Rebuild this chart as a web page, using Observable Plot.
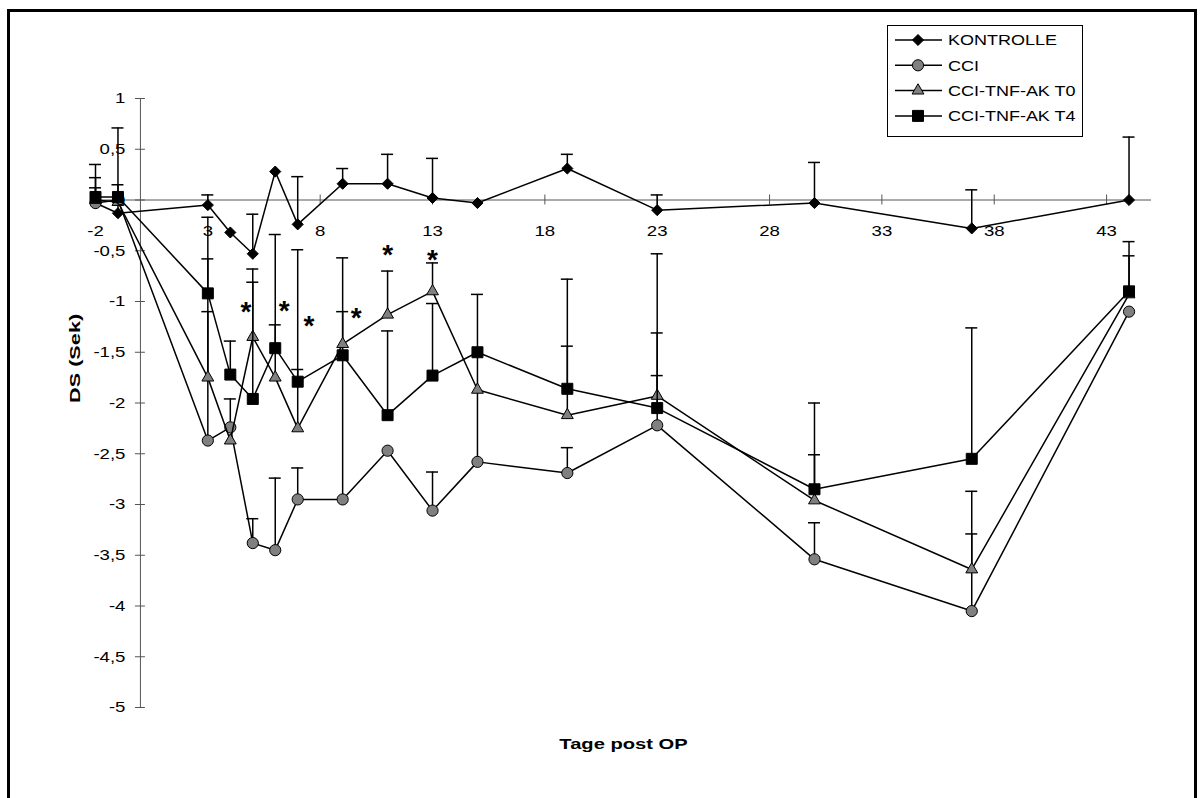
<!DOCTYPE html>
<html>
<head>
<meta charset="utf-8">
<script src="https://cdn.jsdelivr.net/npm/d3@7"></script>
<script src="https://cdn.jsdelivr.net/npm/@observablehq/plot@0.6"></script>
<style>
  html, body { margin: 0; padding: 0; background: #fff; }
  #wrap { position: relative; width: 1200px; height: 798px; overflow: hidden;
          font-family: "Liberation Sans", Arial, sans-serif; }
  #chart { position: absolute; left: 0; top: 0; }
  #frame { position: absolute; left: 7px; top: 9px; width: 1190px; height: 900px;
           border: 3px solid #000; box-sizing: border-box; pointer-events: none; }
  #legend { position: absolute; left: 887px; top: 25px; }
</style>
</head>
<body>
<div id="wrap">
  <div id="chart"></div>
  <div id="frame"></div>
  <svg id="legend" width="196" height="112"></svg>
</div>
<script>
// Measurement days (Tage post OP)
const days = [-2, -1, 3, 4, 5, 6, 7, 9, 11, 13, 15, 19, 23, 30, 37, 44];

// Mean DS (seconds) per group, with the upper error bar length (null = no bar)
const kontrolle    = [-0.03, -0.13, -0.05, -0.32, -0.53, 0.28, -0.24, 0.16, 0.16, 0.02, -0.03, 0.31, -0.10, -0.03, -0.28, 0.00];
const kontrolleErr = [0.15, 0.28, 0.10, null, 0.39, null, 0.47, 0.15, 0.29, 0.39, null, 0.14, 0.15, 0.40, 0.38, 0.62];

const cci    = [-0.03, 0.00, -2.37, -2.24, -3.38, -3.45, -2.95, -2.95, -2.47, -3.06, -2.58, -2.69, -2.22, -3.54, -4.05, -1.10];
const cciErr = [0.38, null, 2.20, 0.28, 0.24, 0.71, 0.31, 2.38, null, 0.38, 1.65, 0.25, 0.91, 0.36, 0.76, null];

const tnfT0    = [0.00, -0.02, -1.75, -2.37, -1.35, -1.75, -2.25, -1.42, -1.13, -0.90, -1.87, -2.12, -1.93, -2.96, -3.64, -0.93];
const tnfT0Err = [null, null, 0.65, null, 0.67, 0.52, 0.58, 0.32, 0.43, 0.28, null, 1.34, 0.20, 0.45, 0.77, 0.52];

const tnfT4    = [0.03, 0.03, -0.92, -1.72, -1.96, -1.46, -1.79, -1.53, -2.12, -1.73, -1.50, -1.86, -2.05, -2.85, -2.55, -0.90];
const tnfT4Err = [0.19, 0.68, 0.34, 0.33, 1.15, 1.12, 1.30, null, 0.83, 0.71, null, 0.42, 1.52, 0.85, 1.29, 0.35];

// Significance asterisks (day, DS)
const sigDay = [4.7, 6.4, 7.5, 9.6, 11.0, 13.0];
const sigDs  = [-1.04, -1.03, -1.18, -1.10, -0.48, -0.53];

// Axis ticks
const xTicks = [-2, 3, 8, 13, 18, 23, 28, 33, 38, 43];
const yTicks = [1, 0.5, 0, -0.5, -1, -1.5, -2, -2.5, -3, -3.5, -4, -4.5, -5];

const seriesNames = ["KONTROLLE", "CCI", "CCI-TNF-AK T0", "CCI-TNF-AK T4"];

const series = [
  {name: seriesNames[0], values: kontrolle, err: kontrolleErr, symbol: "diamond2", fill: "#000", r: 5},
  {name: seriesNames[1], values: cci,       err: cciErr,       symbol: "circle",   fill: "#808080", r: 5.6},
  {name: seriesNames[2], values: tnfT0,     err: tnfT0Err,     symbol: "triangle", fill: "#808080", r: 4.4},
  {name: seriesNames[3], values: tnfT4,     err: tnfT4Err,     symbol: "square",   fill: "#000", r: 6.2}
];

const fmt = d => String(d).replace(".", ",");
const axisColor = "#555";
const FONT = '"Liberation Sans", Arial, sans-serif';

const marks = [
  // axes crossing at day 0 / DS 0
  Plot.ruleX([0], {y1: -5, y2: 1, stroke: axisColor, strokeWidth: 1}),
  Plot.ruleY([0], {x1: -2, x2: 45, stroke: axisColor, strokeWidth: 1}),
  Plot.ruleY(yTicks, {y: d => d, x1: 0, x2: 0, insetLeft: -5, insetRight: -5, stroke: axisColor}),
  Plot.ruleX(xTicks, {x: d => d, y1: 0, y2: 0, insetTop: -5, insetBottom: -5, stroke: axisColor})
];

for (const s of series) {
  const rows = days.map((day, i) => ({
    day, value: s.values[i],
    top: s.err[i] == null ? null : s.values[i] + s.err[i]
  }));
  const bars = rows.filter(d => d.top != null);
  marks.push(
    Plot.ruleX(bars, {x: "day", y1: "value", y2: "top", stroke: "#000", strokeWidth: 1.5}),
    Plot.ruleY(bars, {y: "top", x1: "day", x2: "day", insetLeft: -6, insetRight: -6, stroke: "#000", strokeWidth: 1.5}),
    Plot.line(rows, {x: "day", y: "value", stroke: "#000", strokeWidth: 1.5}),
    Plot.dot(rows, {x: "day", y: "value", symbol: s.symbol, r: s.r, fill: s.fill, stroke: "#000", strokeWidth: 1})
  );
}

// text layers; each gets a horizontal stretch after rendering (wide Arial look)
const textLayers = [
  [Plot.text(yTicks, {x: 0, y: d => d, text: fmt, textAnchor: "end", dx: -15, fontSize: 15.5, fill: "#000"}), 1.2],
  [Plot.text(xTicks, {x: d => d, y: 0, text: d => String(d), dy: 31, fontSize: 15.5, fill: "#000"}), 1.2],
  [Plot.text(["Tage post OP"], {frameAnchor: "bottom", dy: 41, fontSize: 15.5, fontWeight: "bold", fill: "#000"}), 1.3],
  [Plot.text(["DS (Sek)"], {frameAnchor: "left", dx: -20, rotate: -90, fontSize: 15.5, fontWeight: "bold", fill: "#000"}), 1.4],
  [Plot.text(sigDay.map((d, i) => ({day: d, ds: sigDs[i]})),
    {x: "day", y: "ds", text: () => "*", fontSize: 28, fontWeight: "bold", dy: 6, fill: "#000"}), 1]
];
for (const [m] of textLayers) marks.push(m);

const chart = Plot.plot({
  width: 1200,
  height: 798,
  marginLeft: 95,
  marginRight: 49,
  marginTop: 98,
  marginBottom: 91,
  x: {domain: [-2, 45], axis: null},
  y: {domain: [-5, 1], axis: null},
  style: {fontFamily: FONT, background: "transparent"},
  marks
});
document.getElementById("chart").appendChild(chart);

// widen the glyphs of each text layer around its anchor point
const textGroups = chart.querySelectorAll('g[aria-label="text"]');
textGroups.forEach((g, k) => {
  const sx = textLayers[k] ? textLayers[k][1] : 1;
  if (sx === 1) return;
  g.querySelectorAll("text").forEach(t => {
    const tr = t.getAttribute("transform") || "";
    t.setAttribute("transform", `${tr} scale(${sx},1)`);
  });
});

// Legend
const lg = d3.select("#legend");
lg.append("rect").attr("x", 0.5).attr("y", 0.5).attr("width", 195).attr("height", 111)
  .attr("fill", "#fff").attr("stroke", "#000").attr("stroke-width", 1);
const symbolTypes = {diamond2: d3.symbolDiamond2, circle: d3.symbolCircle, triangle: d3.symbolTriangle, square: d3.symbolSquare};
series.forEach((s, i) => {
  const cy = 15 + i * 25.3;
  const g = lg.append("g").attr("transform", `translate(0,${cy})`);
  g.append("line").attr("x1", 8).attr("x2", 55).attr("stroke", "#000").attr("stroke-width", 1.5);
  g.append("path")
    .attr("transform", "translate(31,0)")
    .attr("d", d3.symbol().type(symbolTypes[s.symbol]).size(Math.PI * s.r * s.r)())
    .attr("fill", s.fill).attr("stroke", "#000").attr("stroke-width", 1);
  g.append("text").attr("transform", "translate(61,0) scale(1.2,1)").attr("dy", "0.35em")
    .attr("font-size", 15).attr("font-family", FONT)
    .text(s.name);
});
</script>
</body>
</html>
